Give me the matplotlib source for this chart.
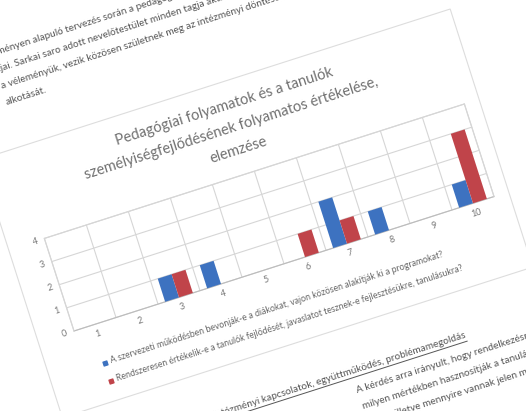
import matplotlib
matplotlib.use("Agg")
import matplotlib.pyplot as plt
from matplotlib.transforms import Affine2D
from matplotlib.patches import Rectangle
import mpl_toolkits.axisartist.floating_axes as floating_axes
from mpl_toolkits.axisartist.grid_finder import FixedLocator, DictFormatter
import numpy as np

# ---------------- data ----------------
categories = [1, 2, 3, 4, 5, 6, 7, 8, 9, 10]
blue_values = [0, 0, 1, 1, 0, 0, 2, 1, 0, 1]
red_values = [0, 0, 1, 0, 0, 1, 1, 0, 0, 3]
y_ticks = [0, 1, 2, 3, 4]
title_lines = ["Pedagógiai folyamatok és a tanulók",
               "személyiségfejlődésének folyamatos értékelése,",
               "elemzése"]
legend_labels = ["A szervezeti működésben bevonják-e a diákokat, vajon közösen alakítják ki a programokat?",
                 "Rendszeresen értékelik-e a tanulók fejlődését, javaslatot tesznek-e fejlesztésükre, tanulásukra?"]
para_top = ["a programozást. A véleményen alapuló tervezés során a pedagógusok és a szülők egyaránt részt vesznek a munkában,",
            "pedagógusok és a diákjai. Sarkai saro adott nevelőtestület minden tagja aktívan közreműködik a folyamatban",
            "a szülők és a tanulók a véleményük, vezik közösen születnek meg az intézményi döntések és programok",
            "alkotását."]
para_bottom_head = "Intézményi kapcsolatok, együttműködés, problémamegoldás"
para_bottom = ["A kérdés arra irányult, hogy rendelkezésre álló tanulói adatokat",
               "milyen mértékben hasznosítják a tanulást segítő eljárások",
               "során, illetve mennyire vannak jelen minden partner"]

BLUE = "#3d72c0"
RED = "#c0444a"
GRID = "#d6d6d6"
TXT = "#707070"
FONT = "Lato"

W, H = 526, 411
ANGLE = 17.75
fig = plt.figure(figsize=(W / 100, H / 100), dpi=100)
fig.patch.set_facecolor("white")

tr = (Affine2D().translate(-0.5, 0).scale(44.1, 24.3)
      .rotate_deg(ANGLE).translate(74, 80))
grid_helper = floating_axes.GridHelperCurveLinear(
    tr, extremes=(0.5, 10.5, 0, 4),
    grid_locator1=FixedLocator(categories),
    tick_formatter1=DictFormatter({c: str(c) for c in categories}),
    grid_locator2=FixedLocator(y_ticks),
    tick_formatter2=DictFormatter({v: str(v) for v in y_ticks}))
ax = fig.add_axes([0, 0, 1, 1], axes_class=floating_axes.FloatingAxes,
                  grid_helper=grid_helper)
ax.set_xlim(0, W)
ax.set_ylim(0, H)
ax.patch.set_facecolor("white")

for side in ["top", "right"]:
    ax.axis[side].toggle(all=False)
    ax.axis[side].line.set_color(GRID)
ax.axis["left"].line.set_color(GRID)
ax.axis["bottom"].line.set_color("#bcbcbc")
for side in ["left", "bottom"]:
    ax.axis[side].major_ticks.set_ticksize(0)
    ax.axis[side].major_ticklabels.set_fontsize(6.5)
    ax.axis[side].major_ticklabels.set_color("#777777")
    ax.axis[side].major_ticklabels.set_fontfamily(FONT)
ax.axis["bottom"].major_ticklabels.set_pad(4)
ax.axis["left"].major_ticklabels.set_pad(5)

aux = ax.get_aux_axes(tr)
x = np.array(categories, dtype=float)
bounds = np.arange(0.5, 11.0, 1.0)
aux.vlines(bounds, 0, 4, color=GRID, lw=0.8, zorder=1)
aux.hlines(y_ticks, 0.5, 10.5, color=GRID, lw=0.8, zorder=1)

bw = 0.33
aux.bar(x - bw / 2, blue_values, width=bw, color=BLUE, zorder=3)
aux.bar(x + bw / 2, red_values, width=bw, color=RED, zorder=3)

# title
for i, line in enumerate(title_lines):
    aux.text(5.3, 6.9 - i * 0.93, line, rotation=ANGLE, rotation_mode="anchor",
             ha="center", va="center", fontsize=10.5, color=TXT,
             family=FONT, clip_on=False)

# legend
colors = [BLUE, RED]
for i, (lab, col) in enumerate(zip(legend_labels, colors)):
    yy = -1.64 - i * 0.78
    aux.scatter([0.95], [yy], marker=(4, 0, 45 + ANGLE), s=16, color=col,
                clip_on=False, zorder=4)
    aux.text(1.08, yy, lab, rotation=ANGLE, rotation_mode="anchor",
             ha="left", va="center", fontsize=6.3, color="#666666",
             family=FONT, clip_on=False)

# chart border
aux.add_patch(Rectangle((-0.35, -3.25), 11.2, 11.15, fill=False,
                        edgecolor="#dddddd", lw=0.8, clip_on=False, zorder=0))

# surrounding page text
for i, line in enumerate(para_top):
    xs = -1.5 if i < 3 else 0.6
    aux.text(xs, 11.9 - i * 0.7, line, rotation=ANGLE, rotation_mode="anchor",
             ha="left", va="center", fontsize=7.2, color="#555555",
             family=FONT, clip_on=False)
aux.text(8.92, -5.05, para_bottom_head, rotation=ANGLE, rotation_mode="anchor",
         ha="right", va="center", fontsize=7.2, color="#555555",
         family=FONT, clip_on=False)
aux.plot([3.55, 8.92], [-5.33, -5.33], color="#555555", lw=0.7, clip_on=False)
for i, line in enumerate(para_bottom):
    aux.text(6.2, -5.9 - i * 0.68, line, rotation=ANGLE, rotation_mode="anchor",
             ha="left", va="center", fontsize=7.2, color="#555555",
             family=FONT, clip_on=False)

fig.savefig("out.png", dpi=100)
